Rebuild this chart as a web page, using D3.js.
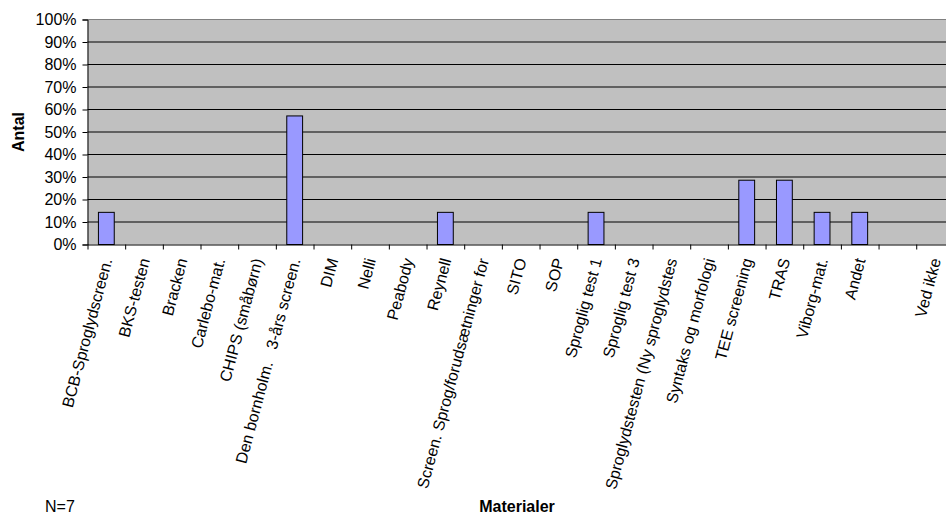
<!DOCTYPE html>
<html>
<head>
<meta charset="utf-8">
<script src="https://cdn.jsdelivr.net/npm/d3@7"></script>
<style>
  html, body { margin: 0; padding: 0; background: #fff; }
  svg { display: block; font-family: "Liberation Sans", Arial, sans-serif; }
</style>
</head>
<body>
<svg id="chart" width="946" height="516"></svg>
<script>
// ---- data ----
const categories = [
  "BCB-Sproglydscreen.", "BKS-testen", "Bracken", "Carlebo-mat.", "CHIPS (småbørn)",
  "Den bornholm.   3-års screen.", "DIM", "Nelli", "Peabody", "Reynell",
  "Screen. Sprog/forudsætninger for", "SITO", "SOP", "Sproglig test 1", "Sproglig test 3",
  "Sproglydstesten (Ny sproglydstes", "Syntaks og morfologi", "TEE screening", "TRAS",
  "Viborg-mat.", "Andet", "", "Ved ikke"
];
const values = [
  0.1429, 0, 0, 0, 0,
  0.5714, 0, 0, 0, 0.1429,
  0, 0, 0, 0.1429, 0,
  0, 0, 0.2857, 0.2857,
  0.1429, 0.1429, 0, 0
];
const yTicks = [0, 0.1, 0.2, 0.3, 0.4, 0.5, 0.6, 0.7, 0.8, 0.9, 1.0];
const yTitle = "Antal";
const xTitle = "Materialer";
const note = "N=7";

// ---- layout ----
const svg = d3.select("#chart");
const mLeft = 87.5, mRight = 953.9, mTop = 19.5, mBottom = 244.5;
const idx = d3.range(categories.length);

const x = d3.scaleBand().domain(idx).range([mLeft, mRight])
  .paddingInner(0.58).paddingOuter(0.29);
const xb = d3.scaleLinear().domain([0, categories.length]).range([mLeft, mRight]);
const y = d3.scaleLinear().domain([0, 1]).range([mBottom, mTop]);

// plot background
svg.append("rect")
  .attr("x", mLeft).attr("y", mTop)
  .attr("width", mRight - mLeft).attr("height", mBottom - mTop)
  .attr("fill", "#c0c0c0");

// gridlines
svg.append("g").selectAll("line")
  .data(yTicks.filter(t => t > 0 && t < 1))
  .join("line")
  .attr("x1", mLeft).attr("x2", mRight)
  .attr("y1", d => y(d)).attr("y2", d => y(d))
  .attr("stroke", "#000").attr("stroke-width", 1);

// top border
svg.append("line")
  .attr("x1", mLeft).attr("x2", mRight)
  .attr("y1", y(1)).attr("y2", y(1))
  .attr("stroke", "#808080").attr("stroke-width", 1);

// bars
svg.append("g").selectAll("rect")
  .data(idx.filter(i => values[i] > 0))
  .join("rect")
  .attr("x", i => x(i))
  .attr("y", i => y(values[i]))
  .attr("width", x.bandwidth())
  .attr("height", i => y(0) - y(values[i]))
  .attr("fill", "#9999ff")
  .attr("stroke", "#000")
  .attr("stroke-width", 1);

// y axis
const yAxis = d3.axisLeft(y).tickValues(yTicks)
  .tickFormat(d3.format(".0%")).tickSize(5).tickPadding(6);
const gy = svg.append("g").attr("transform", `translate(${mLeft},0)`).call(yAxis);
gy.select(".domain").attr("stroke", "#000");
gy.selectAll(".tick line").attr("stroke", "#000");
gy.selectAll(".tick text")
  .attr("fill", "#000")
  .style("font-size", "16px")
  .style("font-family", "'Liberation Sans', Arial, sans-serif");

// x axis (ticks at category boundaries)
const xAxis = d3.axisBottom(xb).tickValues(d3.range(categories.length + 1))
  .tickFormat("").tickSize(5).tickSizeOuter(0);
const gx = svg.append("g").attr("transform", `translate(0,${mBottom})`).call(xAxis);
gx.select(".domain").attr("stroke", "#000");
gx.selectAll(".tick line").attr("stroke", "#000");

// x labels rotated
svg.append("g").selectAll("text")
  .data(idx)
  .join("text")
  .attr("transform", i => `translate(${x(i) + x.bandwidth() / 2 + 6},260) rotate(-75)`)
  .attr("text-anchor", "end")
  .style("font-size", "16px")
  .style("white-space", "pre")
  .attr("fill", "#000")
  .text(i => categories[i]);

// axis titles
svg.append("text")
  .attr("transform", `translate(24,132) rotate(-90)`)
  .attr("text-anchor", "middle")
  .style("font-size", "16px").style("font-weight", "bold")
  .text(yTitle);

svg.append("text")
  .attr("x", 517).attr("y", 512)
  .attr("text-anchor", "middle")
  .style("font-size", "16px").style("font-weight", "bold")
  .text(xTitle);

svg.append("text")
  .attr("x", 45).attr("y", 512)
  .style("font-size", "16px")
  .text(note);
</script>
</body>
</html>
